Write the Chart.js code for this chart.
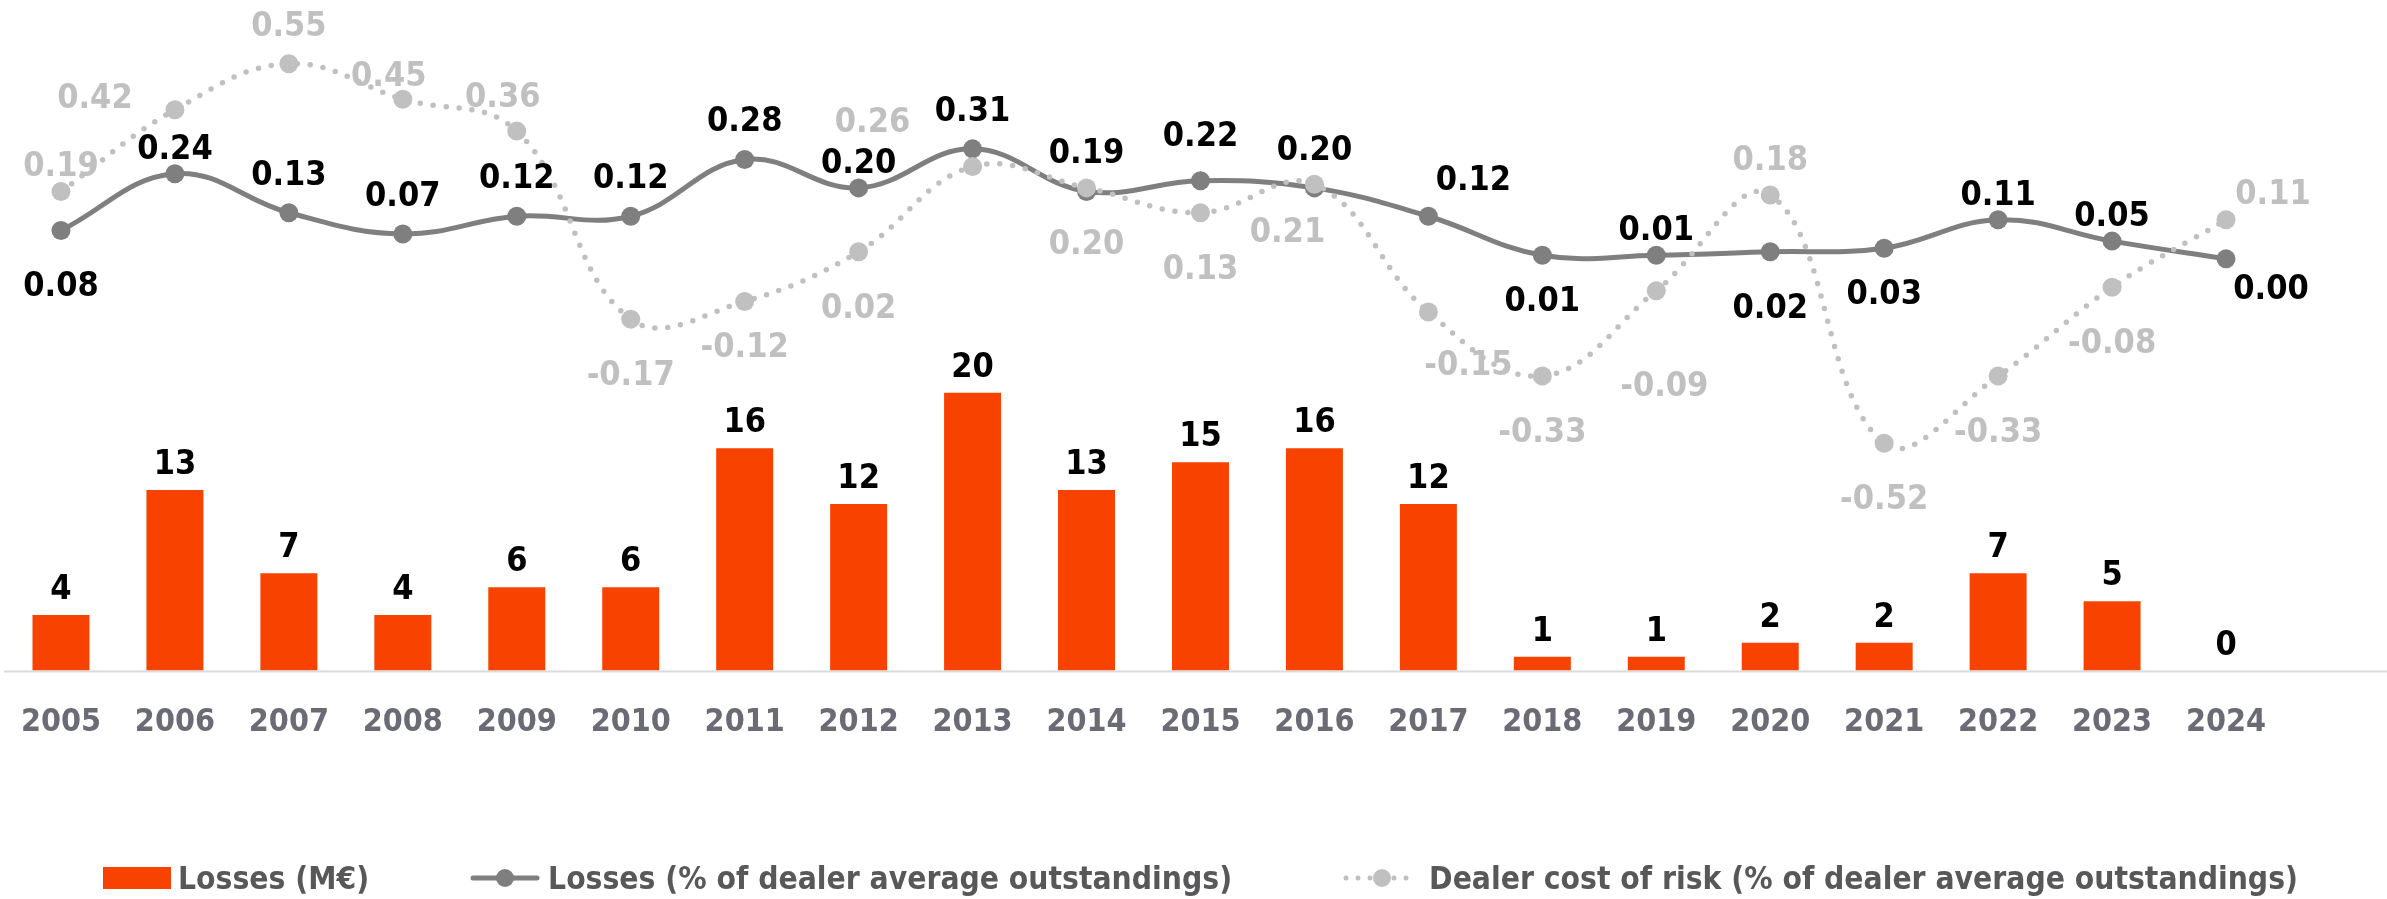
<!DOCTYPE html>
<html>
<head>
<meta charset="utf-8">
<script src="https://cdn.jsdelivr.net/npm/chart.js@4.4.1/dist/chart.umd.min.js"></script>
<style>
  html, body { margin: 0; padding: 0; background: #fff; overflow: hidden; }
  #wrap { position: relative; width: 2387px; height: 899px; }
  #legend {
    position: absolute; left: 7px; top: 858px; width: 2387px; height: 40px;
    display: flex; justify-content: center; align-items: center; gap: 100px;
    font: bold 31.5px "DejaVu Sans Condensed", "DejaVu Sans", sans-serif; color: #58585a;
  }
  .item { display: flex; align-items: center; gap: 7px; white-space: nowrap; }
  .item:last-child { margin-left: 10px; }
</style>
</head>
<body>
<div id="wrap">
  <canvas id="chart" width="2387" height="899"></canvas>
  <div id="legend"></div>
</div>
<script>
const years = ['2005', '2006', '2007', '2008', '2009', '2010', '2011', '2012', '2013', '2014',
               '2015', '2016', '2017', '2018', '2019', '2020', '2021', '2022', '2023', '2024'];

// Losses in M€
const lossesMEur = [4, 13, 7, 4, 6, 6, 16, 12, 20, 13, 15, 16, 12, 1, 1, 2, 2, 7, 5, 0];

// Losses as % of dealer average outstandings
const lossesPct = [0.08, 0.24, 0.13, 0.07, 0.12, 0.12, 0.28, 0.20, 0.31, 0.19,
                   0.22, 0.20, 0.12, 0.01, 0.01, 0.02, 0.03, 0.11, 0.05, 0.00];

// Dealer cost of risk, % of dealer average outstandings
const dealerCostOfRisk = [0.19, 0.42, 0.55, 0.45, 0.36, -0.17, -0.12, 0.02, 0.26, 0.20,
                          0.13, 0.21, -0.15, -0.33, -0.09, 0.18, -0.52, -0.33, -0.08, 0.11];

// where each value label sits around its point
const lossesPctLabelPos = ['b2', 't2', 't', 't', 't', 't', 't', 't2', 't', 't',
                           't3', 't', 'tr', 'b', 't2', 'b2', 'b', 't2', 't2', 'br'];
const dealerLabelPos = ['t2', 'l', 't', 'tl2', 'tl3', 'b2', 'b', 'b2', 'tl', 'b2',
                        'b2', 'bl', 'br2', 'b2', 'bb', 't4', 'b2', 'b2', 'b2', 'r'];

const labelOffsets = {
  t: [0, -42], t2: [0, -29], t3: [0, -49], t4: [0, -39],
  b: [0, 42], b2: [0, 52], bb: [8, 91],
  tr: [45, -40], br: [45, 26], br2: [40, 49], r: [47, -30],
  bl: [-27, 44], l: [-80, -16], tl: [-100, -48], tl2: [-14, -27], tl3: [-14, -38]
};

const ORANGE = '#f84200';
const DARK = '#7f7f7f';
const LIGHT = '#c0c0c0';
const FONT = '"DejaVu Sans Condensed", "DejaVu Sans", sans-serif';

// thin grey base line running out to the right edge
const baseline = {
  id: 'baseline',
  beforeDatasetsDraw(chart) {
    const ctx = chart.ctx;
    const y = chart.scales.y.getPixelForValue(0);
    ctx.save();
    ctx.strokeStyle = '#dadada';
    ctx.lineWidth = 2;
    ctx.beginPath();
    ctx.moveTo(chart.chartArea.left, y + 1);
    ctx.lineTo(chart.width, y + 1);
    ctx.stroke();
    ctx.restore();
  }
};

const valueLabels = {
  id: 'valueLabels',
  afterDatasetsDraw(chart) {
    const ctx = chart.ctx;
    ctx.save();
    ctx.font = 'bold 34px ' + FONT;
    ctx.textAlign = 'center';
    chart.data.datasets.forEach((ds, i) => {
      const meta = chart.getDatasetMeta(i);
      meta.data.forEach((el, j) => {
        const v = ds.data[j];
        if (ds.type === 'bar') {
          ctx.fillStyle = '#000';
          ctx.textBaseline = 'alphabetic';
          ctx.fillText(String(v), el.x, el.y - 16);
        } else {
          const off = labelOffsets[ds.labelPos[j]];
          ctx.fillStyle = ds.labelColor;
          ctx.textBaseline = 'middle';
          ctx.fillText(v.toFixed(2), el.x + off[0], el.y + off[1] + 5);
        }
      });
    });
    ctx.restore();
  }
};

const chart = new Chart(document.getElementById('chart'), {
  data: {
    labels: years,
    datasets: [
      {
        type: 'bar',
        label: 'Losses (M€)',
        data: lossesMEur,
        yAxisID: 'y',
        backgroundColor: ORANGE,
        categoryPercentage: 0.5,
        barPercentage: 1,
        order: 3
      },
      {
        type: 'line',
        label: 'Losses (% of dealer average outstandings)',
        data: lossesPct,
        yAxisID: 'yPct',
        borderColor: DARK,
        backgroundColor: DARK,
        borderWidth: 5,
        pointRadius: 9.5,
        pointBorderWidth: 0,
        pointBackgroundColor: DARK,
        tension: 0.4,
        order: 2,
        labelPos: lossesPctLabelPos,
        labelColor: '#000'
      },
      {
        type: 'line',
        label: 'Dealer cost of risk (% of dealer average outstandings)',
        data: dealerCostOfRisk,
        yAxisID: 'yPct',
        borderColor: LIGHT,
        backgroundColor: LIGHT,
        borderWidth: 5.5,
        borderDash: [0, 13],
        borderCapStyle: 'round',
        pointRadius: 9.5,
        pointBorderWidth: 0,
        pointBackgroundColor: LIGHT,
        tension: 0.4,
        order: 1,
        labelPos: dealerLabelPos,
        labelColor: LIGHT
      }
    ]
  },
  options: {
    responsive: false,
    animation: false,
    layout: { autoPadding: false, padding: { left: 4, right: 104, top: 10, bottom: 154 } },
    plugins: {
      legend: { display: false },
      tooltip: { enabled: false }
    },
    scales: {
      x: {
        // invisible tick marks push the year labels down without widening the axis
        grid: { display: false, drawTicks: true, tickLength: 30 },
        border: { display: false },
        ticks: { color: '#6b6b76', font: { family: FONT, size: 32, weight: 'bold' }, padding: 3 }
      },
      y: { display: false, min: 0, max: 47.55 },
      yPct: { display: false, min: -1.1606, max: 0.7014 }
    }
  },
  plugins: [baseline, valueLabels]
});

// html legend built from the chart's datasets
function legendIcon(ds) {
  const c = document.createElement('canvas');
  const g = c.getContext('2d');
  if (ds.type === 'bar') {
    c.width = 68; c.height = 22;
    g.fillStyle = ds.backgroundColor;
    g.fillRect(0, 0, 68, 22);
    return c;
  }
  c.width = ds.borderDash ? 80 : 72; c.height = 24;
  g.strokeStyle = ds.borderColor;
  g.lineWidth = 5;
  g.lineCap = 'round';
  if (ds.borderDash) g.setLineDash([0, 12]);
  g.beginPath();
  g.moveTo(4, 12);
  g.lineTo(c.width - 4, 12);
  g.stroke();
  g.fillStyle = ds.pointBackgroundColor;
  g.beginPath();
  g.arc(c.width / 2, 12, 9, 0, Math.PI * 2);
  g.fill();
  return c;
}

const legendEl = document.getElementById('legend');
chart.data.datasets.forEach(ds => {
  const item = document.createElement('div');
  item.className = 'item';
  item.appendChild(legendIcon(ds));
  const span = document.createElement('span');
  span.textContent = ds.label;
  item.appendChild(span);
  legendEl.appendChild(item);
});
</script>
</body>
</html>
